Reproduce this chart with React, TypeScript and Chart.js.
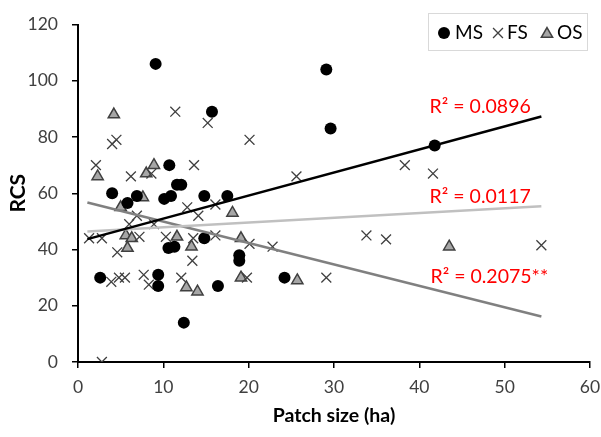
import React, { useEffect, useRef } from 'react';
import { Chart, registerables } from 'chart.js';

Chart.register(...registerables);

// ---- data ----
const msX = [2.6, 4.0, 5.8, 6.9, 9.1, 9.4, 9.4, 10.1, 10.7, 10.9, 10.6, 11.3, 11.6, 12.1, 12.4, 14.8, 14.8, 15.7, 16.4, 17.5, 18.9, 18.9, 24.2, 29.1, 29.6, 41.8];
const msY = [30, 60, 56.5, 59, 106, 31, 27, 58, 70, 59, 40.5, 41, 63, 63, 14, 59, 44, 89, 27, 59, 38, 36, 30, 104, 83, 77];

const fsX = [11.4, 4.0, 4.5, 2.1, 6.2, 8.6, 13.6, 15.2, 20.1, 25.6, 12.8, 16.1, 14.1, 6.9, 6.0, 8.9, 1.3, 2.8, 7.2, 10.3, 16.1, 20.1, 22.8, 13.5, 13.4, 19.8, 29.1, 12.1, 4.6, 3.9, 4.8, 5.5, 7.7, 8.3, 2.8, 38.3, 41.6, 33.8, 36.1, 54.3];
const fsY = [89, 77.5, 79, 70, 66, 67, 70, 85, 79, 66, 55, 56, 52, 52, 49, 49, 44, 44, 44.5, 44.5, 45, 42, 41, 44, 36, 30, 30, 30, 39, 28.5, 30, 30, 31, 27.5, 0, 70, 67, 45, 43.6, 41.5];

const osX = [4.2, 2.3, 8.9, 8.0, 7.6, 5.0, 5.6, 6.3, 5.8, 11.6, 13.3, 12.7, 14.0, 18.1, 19.1, 19.1, 25.7, 43.5];
const osY = [88, 66, 70, 67, 58.5, 55, 45, 44, 40.5, 44.5, 41, 26.5, 25, 53, 44, 30, 29, 41];

const seriesNames = ['MS', 'FS', 'OS'];

const xTicks = [0, 10, 20, 30, 40, 50, 60];
const yTicks = [0, 20, 40, 60, 80, 100, 120];

// trendline end values (x range and y at each end)
const trendX = [1.1, 54.3];
const msTrendY = [43.7, 87.3];
const fsTrendY = [46.4, 55.4];
const osTrendY = [56.7, 16.2];

const r2Text = ['R\u00B2 = 0.0896', 'R\u00B2 = 0.0117', 'R\u00B2 = 0.2075**'];
const r2X = [41.2, 41.2, 41.3];
const r2Y = [90.7, 58.7, 30.2];

const FONT = 'Lato';

const pts = (xs: number[], ys: number[]) => xs.map((x, i) => ({ x, y: ys[i] }));

function drawCircle(ctx: CanvasRenderingContext2D, x: number, y: number, r: number) {
  ctx.beginPath();
  ctx.arc(x, y, r, 0, Math.PI * 2);
  ctx.fillStyle = '#000';
  ctx.fill();
}
function drawCross(ctx: CanvasRenderingContext2D, x: number, y: number, r: number) {
  const d = Math.cos(Math.PI / 4) * r;
  ctx.beginPath();
  ctx.moveTo(x - d, y - d);
  ctx.lineTo(x + d, y + d);
  ctx.moveTo(x - d, y + d);
  ctx.lineTo(x + d, y - d);
  ctx.strokeStyle = '#404040';
  ctx.lineWidth = 1.3;
  ctx.stroke();
}
function drawTri(ctx: CanvasRenderingContext2D, x: number, y: number, r: number) {
  ctx.beginPath();
  for (let k = 0; k < 3; k++) {
    const a = k * (2 * Math.PI / 3);
    const px = x + Math.sin(a) * r;
    const py = y - Math.cos(a) * r;
    if (k === 0) ctx.moveTo(px, py); else ctx.lineTo(px, py);
  }
  ctx.closePath();
  ctx.fillStyle = '#a6a6a6';
  ctx.fill();
  ctx.strokeStyle = '#404040';
  ctx.lineWidth = 1.5;
  ctx.stroke();
}

const legendPlugin = {
  id: 'boxLegend',
  afterDraw(chart: any) {
    const ctx: CanvasRenderingContext2D = chart.ctx;
    ctx.save();
    ctx.fillStyle = '#fff';
    ctx.fillRect(428.5, 13.5, 159, 37);
    ctx.strokeStyle = '#d9d9d9';
    ctx.lineWidth = 1;
    ctx.strokeRect(428.5, 13.5, 159, 37);
    const cy = 33;
    drawCircle(ctx, 444, cy, 6);
    drawCross(ctx, 498, cy, 7);
    drawTri(ctx, 547, cy + 1, 6.5);
    ctx.fillStyle = '#000';
    ctx.font = `19px ${FONT}`;
    ctx.textBaseline = 'middle';
    ctx.textAlign = 'left';
    ctx.fillText(seriesNames[0], 455, cy);
    ctx.fillText(seriesNames[1], 507, cy);
    ctx.fillText(seriesNames[2], 557, cy);
    ctx.restore();
  },
};

const r2Plugin = {
  id: 'r2Labels',
  afterDatasetsDraw(chart: any) {
    const ctx: CanvasRenderingContext2D = chart.ctx;
    const xs = chart.scales.x;
    const ys = chart.scales.y;
    ctx.save();
    ctx.fillStyle = '#ff0000';
    ctx.font = `19.5px ${FONT}`;
    ctx.textBaseline = 'middle';
    ctx.textAlign = 'left';
    r2Text.forEach((t, i) => {
      ctx.fillText(t, xs.getPixelForValue(r2X[i]), ys.getPixelForValue(r2Y[i]));
    });
    ctx.restore();
  },
};

export default function App() {
  const ref = useRef<HTMLCanvasElement>(null);
  useEffect(() => {
    document.body.style.margin = '0';
    const chart = new Chart(ref.current as HTMLCanvasElement, {
      type: 'scatter',
      data: {
        datasets: [
          {
            label: 'MS trend',
            data: pts(trendX, msTrendY),
            showLine: true,
            borderColor: '#000000',
            borderWidth: 2.5,
            pointRadius: 0,
            order: 0,
          },
          {
            label: 'FS trend',
            data: pts(trendX, fsTrendY),
            showLine: true,
            borderColor: '#c0c0c0',
            borderWidth: 2.5,
            pointRadius: 0,
            order: 0,
          },
          {
            label: 'OS trend',
            data: pts(trendX, osTrendY),
            showLine: true,
            borderColor: '#808080',
            borderWidth: 2.5,
            pointRadius: 0,
            order: 0,
          },
          {
            label: seriesNames[2],
            data: pts(osX, osY),
            pointStyle: 'triangle',
            pointRadius: 6.5,
            backgroundColor: '#a6a6a6',
            borderColor: '#404040',
            borderWidth: 1.5,
            order: 3,
          },
          {
            label: seriesNames[1],
            data: pts(fsX, fsY),
            pointStyle: 'crossRot',
            pointRadius: 7,
            borderColor: '#404040',
            borderWidth: 1.3,
            order: 2,
          },
          {
            label: seriesNames[0],
            data: pts(msX, msY),
            pointStyle: 'circle',
            pointRadius: 6,
            backgroundColor: '#000000',
            borderColor: '#000000',
            borderWidth: 0,
            order: 1,
          },
        ],
      },
      options: {
        responsive: false,
        devicePixelRatio: 1,
        animation: false,
        events: [],
        layout: { padding: { top: 16, right: 0, left: 0, bottom: 0 } },
        plugins: {
          legend: { display: false },
          tooltip: { enabled: false },
          title: { display: false },
        },
        scales: {
          x: {
            type: 'linear',
            min: 0,
            max: 60,
            afterBuildTicks: (s: any) => {
              s.ticks = xTicks.map((v) => ({ value: v }));
            },
            afterFit: (s: any) => {
              s.height = 75;
              s.paddingRight = 11;
            },
            ticks: { font: { family: FONT, size: 17.5 }, color: '#404040', padding: 9 },
            grid: { drawOnChartArea: false, drawTicks: true, tickLength: 6, color: '#000', lineWidth: 1.5 },
            border: { display: true, color: '#000', width: 2 },
            title: {
              display: true,
              text: 'Patch size (ha)',
              font: { family: FONT, size: 19.5, weight: 'bold' },
              color: '#000',
              padding: { top: 0, bottom: 10 },
            },
          },
          y: {
            type: 'linear',
            min: 0,
            max: 120,
            afterBuildTicks: (s: any) => {
              s.ticks = yTicks.map((v) => ({ value: v }));
            },
            afterFit: (s: any) => {
              s.width = 78;
            },
            ticks: { font: { family: FONT, size: 17.5 }, color: '#404040', padding: 14 },
            grid: { drawOnChartArea: false, drawTicks: true, tickLength: 6, color: '#000', lineWidth: 1.5 },
            border: { display: true, color: '#000', width: 2 },
            title: {
              display: true,
              text: 'RCS',
              font: { family: FONT, size: 21, weight: 'bold' },
              color: '#000',
              padding: { top: 6, bottom: 0 },
            },
          },
        },
      },
      plugins: [r2Plugin, legendPlugin],
    } as any);
    return () => chart.destroy();
  }, []);
  return (
    <div style={{ position: 'fixed', left: 0, top: 0, width: 601, height: 437, background: '#fff' }}>
      <canvas ref={ref} width={601} height={437} style={{ display: 'block' }} />
    </div>
  );
}
